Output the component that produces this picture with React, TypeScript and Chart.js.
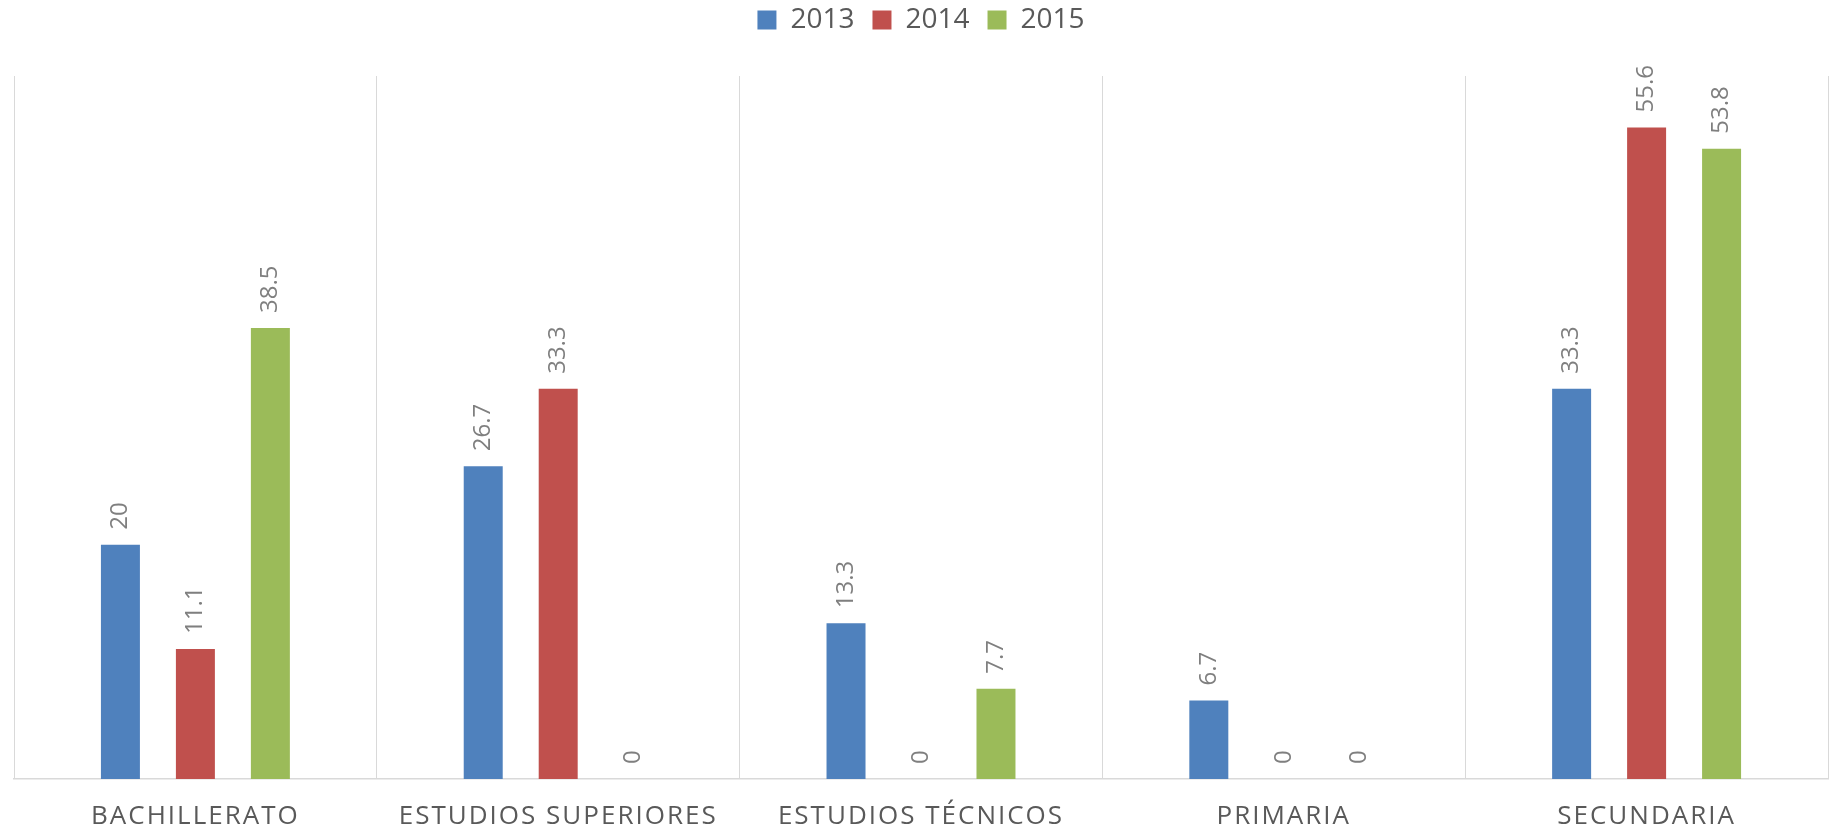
import React, { useEffect, useRef } from 'react';
import { Chart, registerables } from 'chart.js';

Chart.register(...registerables);

const categories = ['BACHILLERATO', 'ESTUDIOS SUPERIORES', 'ESTUDIOS TÉCNICOS', 'PRIMARIA', 'SECUNDARIA'];
const seriesNames = ['2013', '2014', '2015'];
const values2013 = [20, 26.7, 13.3, 6.7, 33.3];
const values2014 = [11.1, 33.3, 0, 0, 55.6];
const values2015 = [38.5, 0, 7.7, 0, 53.8];
const seriesColors = ['#4F81BD', '#C0504D', '#9BBB59'];
const yMin = 0;
const yMax = 60;

const FONT = "'Open Sans', sans-serif";

const valueLabelPlugin = {
  id: 'valueLabels',
  afterDatasetsDraw(chart: any) {
    const ctx = chart.ctx;
    ctx.save();
    ctx.font = `24px ${FONT}`;
    ctx.fillStyle = '#7f7f7f';
    ctx.textAlign = 'left';
    ctx.textBaseline = 'middle';
    chart.data.datasets.forEach((ds: any, i: number) => {
      const meta = chart.getDatasetMeta(i);
      meta.data.forEach((el: any, j: number) => {
        const v = ds.data[j];
        const { x, y } = el.getProps(['x', 'y'], true);
        ctx.save();
        ctx.translate(x, y - 15);
        ctx.rotate(-Math.PI / 2);
        ctx.fillText(String(v), 0, 0);
        ctx.restore();
      });
    });
    ctx.restore();
  },
};

const legendSpacingPlugin = {
  id: 'legendSpacing',
  beforeInit(chart: any) {
    const legend = chart.legend;
    if (!legend) return;
    const origFit = legend.fit;
    legend.fit = function () {
      origFit.call(this);
      this.height = 88;
    };
  },
};

const letterSpacingPlugin = {
  id: 'xLetterSpacing',
  afterLayout(chart: any) {
    const sc = chart.scales.x;
    if (sc && !sc.__lsPatched) {
      const orig = sc.drawLabels.bind(sc);
      sc.drawLabels = (area: any) => {
        const ctx = chart.ctx;
        ctx.save();
        ctx.letterSpacing = '2px';
        orig(area);
        ctx.restore();
      };
      sc.__lsPatched = true;
    }
  },
};

export default function App() {
  const canvasRef = useRef<HTMLCanvasElement | null>(null);

  useEffect(() => {
    document.body.style.margin = '0';
    const canvas = canvasRef.current;
    if (!canvas) return;
    const seriesValues = [values2013, values2014, values2015];
    const chart = new Chart(canvas, {
      type: 'bar',
      data: {
        labels: categories,
        datasets: seriesNames.map((name, i) => ({
          label: name,
          data: seriesValues[i],
          backgroundColor: seriesColors[i],
          borderWidth: 0,
          categoryPercentage: 0.62,
          barPercentage: 0.52,
        })),
      },
      options: {
        animation: false,
        responsive: true,
        maintainAspectRatio: false,
        layout: { padding: { left: 14, right: 1, top: -12, bottom: 0 } },
        font: { family: FONT },
        plugins: {
          legend: {
            position: 'top',
            labels: {
              boxWidth: 19,
              boxHeight: 19,
              padding: 18,
              color: '#595959',
              font: { family: FONT, size: 28 },
            },
          },
          tooltip: { enabled: false },
        },
        scales: {
          x: {
            grid: {
              display: true,
              offset: true,
              color: '#d9d9d9',
              lineWidth: 1,
              drawTicks: false,
            },
            border: { display: true, color: '#d9d9d9', width: 1.5 },
            ticks: {
              color: '#595959',
              font: { family: FONT, size: 26 },
              padding: 22,
              maxRotation: 0,
              autoSkip: false,
            },
            afterFit: (scale: any) => {
              scale.height = 51;
            },
          },
          y: {
            display: false,
            min: yMin,
            max: yMax,
            grid: { display: false },
          },
        },
      },
      plugins: [valueLabelPlugin, legendSpacingPlugin, letterSpacingPlugin],
    } as any);
    return () => chart.destroy();
  }, []);

  return (
    <div style={{ position: 'relative', width: '1829px', height: '830px' }}>
      <canvas ref={canvasRef} />
    </div>
  );
}
